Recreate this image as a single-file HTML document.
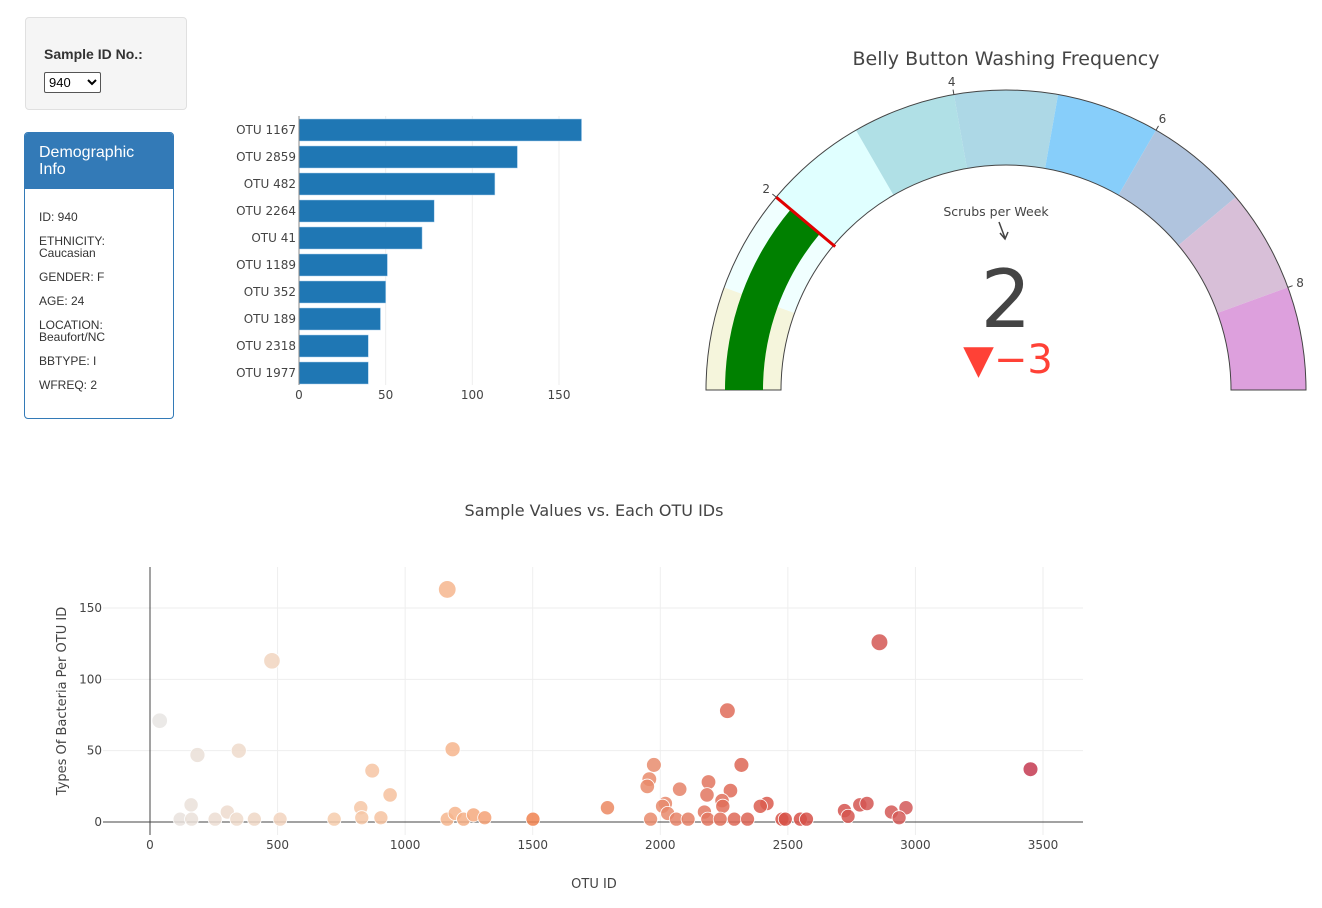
<!DOCTYPE html>
<html><head><meta charset="utf-8">
<style>
body{margin:0;width:1322px;height:908px;background:#fff;position:relative;overflow:hidden;font-family:"Liberation Sans",Arial,sans-serif}
#sel{position:absolute;left:25px;top:17px;width:162px;height:93px;background:#f5f5f5;border:1px solid #e0e0e0;border-radius:4px;box-sizing:border-box}
#sel .lbl{position:absolute;left:18px;top:28px;font-weight:bold;font-size:14px;color:#333}
#sel select{position:absolute;left:18px;top:54px;width:57px;height:21px;font-size:13px;border:1px solid #555;background:#fff;border-radius:2px}
#demo{position:absolute;left:24px;top:132px;width:150px;height:287px;border:1px solid #337ab7;border-radius:4px;box-sizing:border-box;overflow:hidden}
#demo .hd{background:#337ab7;color:#fff;font-size:16px;line-height:17px;padding:11px 14px 0 14px;height:56px;box-sizing:border-box}
#demo .bd{padding:22px 0 0 14px;font-size:12px;color:#333;line-height:12px}
#demo .bd p{margin:0 0 12px 0}
svg{position:absolute;left:0;top:0}
</style></head><body>
<div id="sel">
<div class="lbl">Sample ID No.:</div>
<select><option>940</option></select>
</div>
<div id="demo">
<div class="hd">Demographic Info</div>
<div class="bd">
<p>ID: 940</p><p>ETHNICITY:<br>Caucasian</p><p>GENDER: F</p><p>AGE: 24</p><p>LOCATION:<br>Beaufort/NC</p><p>BBTYPE: I</p><p>WFREQ: 2</p>
</div></div>
<svg id="chart" width="1322" height="908" xmlns="http://www.w3.org/2000/svg" font-family="DejaVu Sans, Liberation Sans, sans-serif"></svg>
<script>
// ---- bar chart data ----
const barLabels=["OTU 1167","OTU 2859","OTU 482","OTU 2264","OTU 41","OTU 1189","OTU 352","OTU 189","OTU 2318","OTU 1977"];
const barValues=[163,126,113,78,71,51,50,47,40,40];
const barTicks=[0,50,100,150];
// ---- gauge data ----
const gaugeValue=2;
const gaugeRef=5;
const gaugeMax=9;
const gaugeTicks=[2,4,6,8];
const gaugeStepColors=["#f5f5dc","#f0ffff","#e0ffff","#b0e0e6","#add8e6","#87cefa","#b0c4de","#d8bfd8","#dda0dd"];
// ---- bubble data ----
const otuIds=[38,186,348,478,1165,1186,871,941,826,161,303,118,163,255,340,409,510,722,830,905,1165,1196,1229,1268,1312,1501,1793,
1975,1957,1949,2076,2263,2318,2189,2183,2275,2020,2009,2242,2245,2418,2392,2029,2173,2859,3451,2722,2736,2782,2810,2906,2963,2936,
1962,2063,2109,2186,2235,2290,2342,2477,2490,2549,2573];
const sampleValues=[71,47,50,113,163,51,36,19,10,12,7,2,2,2,2,2,2,2,3,3,2,6,2,5,3,2,10,
40,30,25,23,78,40,28,19,22,13,11,15,11,13,11,6,7,126,37,8,4,12,13,7,10,3,
2,2,2,2,2,2,2,2,2,2,2];
const bubbleXTicks=[0,500,1000,1500,2000,2500,3000,3500];
const bubbleYTicks=[0,50,100,150];

const svg=document.getElementById('chart');
const NS="http://www.w3.org/2000/svg";
function mk(tag,attrs,parent,name,inter){const e=document.createElementNS(NS,tag);for(const k in attrs)e.setAttribute(k,attrs[k]);


(parent||svg).appendChild(e);return e;}

// bar chart
const bx=v=>299+v*(260/150), rowY=i=>118+i*27;
const gBar=mk('g',{},svg,'bar-chart');
barTicks.forEach(t=>{ if(t>0) mk('line',{x1:bx(t),x2:bx(t),y1:116,y2:385,stroke:'#eee'},gBar,'bar-gridline');
 const tx=mk('text',{x:bx(t),y:399,'font-size':12,fill:'#444','text-anchor':'middle'},gBar,'bar-x-tick-label');tx.textContent=t;});
barValues.forEach((v,i)=>{mk('rect',{x:299,y:rowY(i)+1,width:bx(v)-299,height:22,fill:'#1f77b4',stroke:'#a9cfee','stroke-width':0.5},gBar,'bar-'+barLabels[i].replace(' ','-').toLowerCase(),true);
 const t=mk('text',{x:296,y:rowY(i)+16,'font-size':12,fill:'#444','text-anchor':'end'},gBar,'bar-y-tick-label');t.textContent=barLabels[i];});
mk('line',{x1:299,x2:299,y1:116,y2:385,stroke:'#888'},gBar,'bar-y-axis-line');

// gauge
const cx=1006,cy=390,R=300,r=225;
const ang=v=>Math.PI-v/gaugeMax*Math.PI;
const pt=(v,rad)=>[cx+rad*Math.cos(ang(v)),cy-rad*Math.sin(ang(v))];
function arc(v0,v1,r0,r1){const a=pt(v0,r1),b=pt(v1,r1),c=pt(v1,r0),d=pt(v0,r0);
 return `M${a[0]},${a[1]} A${r1},${r1} 0 0 1 ${b[0]},${b[1]} L${c[0]},${c[1]} A${r0},${r0} 0 0 0 ${d[0]},${d[1]} Z`;}
const gG=mk('g',{},svg,'gauge-chart');
const tt=mk('text',{x:cx,y:65,'font-size':19,fill:'#444','text-anchor':'middle'},gG,'gauge-title');tt.textContent="Belly Button Washing Frequency";
gaugeStepColors.forEach((c,i)=>mk('path',{d:arc(i,i+1,r,R),fill:c},gG,'gauge-step-'+i));
mk('path',{d:arc(0,gaugeMax,r,R),fill:'none',stroke:'#444','stroke-width':1},gG,'gauge-border');
mk('path',{d:arc(0,gaugeValue,243,281),fill:'#008000'},gG,'gauge-value-bar');
{const a=pt(gaugeValue,r-2),b=pt(gaugeValue,R);mk('line',{x1:a[0],y1:a[1],x2:b[0],y2:b[1],stroke:'#e00000','stroke-width':3},gG,'gauge-threshold-line');}
gaugeTicks.forEach(t=>{const a=pt(t,R),b=pt(t,R+5),l=pt(t,R+13);
 mk('line',{x1:a[0],y1:a[1],x2:b[0],y2:b[1],stroke:'#444'},gG,'gauge-tick');
 const tx=mk('text',{x:l[0],y:l[1]+4,'font-size':12,fill:'#444','text-anchor':'middle'},gG,'gauge-tick-label');tx.textContent=t;});
const st=mk('text',{x:996,y:216,'font-size':12.5,fill:'#444','text-anchor':'middle'},gG,'gauge-subtitle');st.textContent="Scrubs per Week";
mk('path',{d:'M999,222 L1005,238 M1000,233 L1005,239 L1008,232',stroke:'#444','stroke-width':1.5,fill:'none'},gG,'gauge-arrow-annotation');
const nv=mk('text',{x:cx,y:327,'font-size':80,fill:'#444','text-anchor':'middle'},gG,'gauge-number');nv.textContent=gaugeValue;
const dl=mk('text',{x:1008,y:373,'font-size':40,fill:'#ff4136','text-anchor':'middle'},gG,'gauge-delta');dl.textContent="▼\u2212"+(gaugeRef-gaugeValue);

// bubble chart
const px=v=>150+v*(893/3500), py=v=>822-v*(214/150);
const gB=mk('g',{},svg,'bubble-chart');
const bt=mk('text',{x:594,y:516,'font-size':16,fill:'#444','text-anchor':'middle'},gB,'bubble-chart-title');bt.textContent="Sample Values vs. Each OTU IDs";
bubbleXTicks.forEach(t=>{ if(t>0) mk('line',{x1:px(t),x2:px(t),y1:567,y2:835,stroke:'#eee'},gB,'bubble-x-gridline');
 const tx=mk('text',{x:px(t),y:849,'font-size':12,fill:'#444','text-anchor':'middle'},gB,'bubble-x-tick-label');tx.textContent=t;});
bubbleYTicks.forEach(t=>{ if(t>0) mk('line',{x1:103,x2:1083,y1:py(t),y2:py(t),stroke:'#eee'},gB,'bubble-y-gridline');
 const tx=mk('text',{x:102,y:py(t)+4,'font-size':12,fill:'#444','text-anchor':'end'},gB,'bubble-y-tick-label');tx.textContent=t;});
mk('line',{x1:103,x2:1083,y1:822,y2:822,stroke:'#444'},gB,'bubble-x-zeroline');
mk('line',{x1:150,x2:150,y1:567,y2:835,stroke:'#444'},gB,'bubble-y-zeroline');
const stops=[[0,[230,230,230]],[700,[246,205,175]],[1200,[246,180,140]],[1500,[240,130,80]],[2000,[232,140,110]],[2500,[215,80,70]],[3000,[210,90,90]],[3500,[195,55,80]]];
function col(v){for(let i=1;i<stops.length;i++){if(v<=stops[i][0]){const a=stops[i-1],b=stops[i],f=(v-a[0])/(b[0]-a[0]);
 return 'rgb('+a[1].map((c,k)=>Math.round(c+(b[1][k]-c)*f)).join(',')+')';}}return 'rgb(195,55,80)';}
otuIds.forEach((id,i)=>{mk('circle',{cx:px(id),cy:py(sampleValues[i]),r:7+sampleValues[i]*0.011,fill:col(id),'fill-opacity':0.85,stroke:'#fff','stroke-width':0.8},gB,'bubble-otu-'+id,true);});
const yt=mk('text',{x:0,y:0,'font-size':13,fill:'#444','text-anchor':'middle',transform:'translate(66,701) rotate(-90)'},gB,'bubble-y-axis-title');yt.textContent="Types Of Bacteria Per OTU ID";
const xt=mk('text',{x:594,y:888,'font-size':13,fill:'#444','text-anchor':'middle'},gB,'bubble-x-axis-title');xt.textContent="OTU ID";
</script>
</body></html>
